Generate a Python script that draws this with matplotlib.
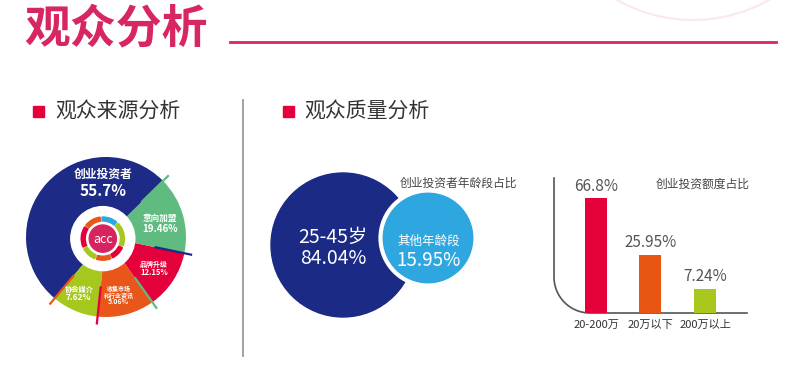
import numpy as np
import matplotlib
matplotlib.use("Agg")
import matplotlib.pyplot as plt
import matplotlib.patches as mpatches

plt.rcParams['font.family'] = ['Noto Sans CJK SC', 'DejaVu Sans']

# ---- data ----
# audience source (labels show the stated shares, wedges follow the drawn sizes)
source_names = ["创业投资者", "协会媒介", "收集市场\n和行业资讯", "品牌升级", "意向加盟"]
source_pct = ["55.7%", "7.62%", "5.06%", "12.15%", "19.46%"]
source_drawn = [51.5, 9.4, 11.5, 11.9, 15.6]
source_colors = ["#1d2a86", "#a6c81e", "#e8561a", "#e4003a", "#5fbb80"]
source_edge_lines = ["#5fbb80", "#e8561a", "#e4003a", "#5fbb80", "#1d2a86"]

# investor age
age_names = ["25-45岁", "其他年龄段"]
age_values = [84.04, 15.95]
age_colors = ["#1b2a85", "#2ea7e0"]

# investment amount
amount_names = ["20-200万", "20万以下", "200万以上"]
amount_values = [66.8, 25.95, 7.24]
amount_drawn = [66.8, 33.7, 14.0]
amount_colors = ["#e4003a", "#e95513", "#a8c81e"]

W, H = 803, 383
fig = plt.figure(figsize=(W / 100, H / 100), dpi=100)
fig.patch.set_facecolor("white")

# background axes in pixel coordinates for the decoration
bg = fig.add_axes([0, 0, 1, 1])
bg.set_xlim(0, W)
bg.set_ylim(H, 0)
bg.axis("off")

pink = "#d82660"
bg.text(24, 30, "观众分析", fontsize=33, fontweight="heavy", color=pink,
        va="center", ha="left")
bg.plot([230, 776], [42, 42], color=pink, lw=2)
bg.add_patch(mpatches.Circle((693, -134), 154, fill=False, ec="#fae8ee", lw=1.5))

# section headers
bg.add_patch(mpatches.Rectangle((33, 106), 11, 11, color="#e4003a"))
bg.text(55, 112, "观众来源分析", fontsize=15, color="#333333", va="center")
bg.add_patch(mpatches.Rectangle((283, 106), 11, 11, color="#e4003a"))
bg.text(304, 112, "观众质量分析", fontsize=15, color="#333333", va="center")
bg.plot([243, 243], [100, 356], color="#9a9a9a", lw=1.3)

# ---- pie: audience source ----
cx, cy, R = 106, 237, 77
half = 100
pax = fig.add_axes([(cx - half) / W, (H - cy - half) / H, 2 * half / W, 2 * half / H])
pax.set_xlim(-half / R, half / R)
pax.set_ylim(-half / R, half / R)
pax.set_aspect("equal")
pax.axis("off")
wedges, _ = pax.pie(source_drawn, colors=source_colors, startangle=44.5,
                    counterclock=True, radius=1,
                    wedgeprops=dict(linewidth=0))
# thin coloured separators sticking out of the pie
for w, c in zip(wedges, source_edge_lines):
    a = np.deg2rad(w.theta1)
    pax.plot([0.62 * np.cos(a), 1.1 * np.cos(a)], [0.62 * np.sin(a), 1.1 * np.sin(a)],
             color=c, lw=1.6, solid_capstyle="butt", zorder=3)
# centre logo
pax.add_patch(mpatches.Circle((-0.04, -0.02), 0.40, color="white", zorder=4))
ring = [(50, 92, "#2ea7e0"), (97, 142, "#e8561a"), (147, 203, "#e4003a"),
        (208, 248, "#a6c81e"), (253, 292, "#e8561a"), (297, 335, "#e4003a"),
        (340, 405, "#a6c81e")]
for t1, t2, c in ring:
    pax.add_patch(mpatches.Wedge((-0.04, -0.02), 0.27, t1, t2, width=0.05,
                                 color=c, zorder=5))
pax.add_patch(mpatches.Circle((-0.04, -0.02), 0.17, color="#d6245e", zorder=6))
pax.text(-0.04, -0.03, "acc", color="white", fontsize=9, ha="center", va="center", zorder=7)

lab_pos = [(-0.04, 0.79, 0.58), (-0.34, -0.65, -0.75), (0.16, -0.64, -0.81),
           (0.6, -0.34, -0.44), (0.675, 0.234, 0.104)]
lab_size = [(8.5, 11), (5.2, 6), (4.3, 5), (5, 5.5), (6.2, 7)]
for name, pct, (x, y1, y2), (s1, s2) in zip(source_names, source_pct, lab_pos, lab_size):
    if "\n" in name:
        a, b = name.split("\n")
        pax.text(x, y1, a, fontsize=s1, color="white", fontweight="bold", ha="center", va="center")
        pax.text(x, y1 - 0.09, b, fontsize=s1, color="white", fontweight="bold", ha="center", va="center")
    else:
        pax.text(x, y1, name, fontsize=s1, color="white", fontweight="bold", ha="center", va="center")
    pax.text(x, y2, pct, fontsize=s2, color="white", fontweight="bold", ha="center", va="center")

# ---- age circles ----
k = 72 / age_values[0] ** 0.25
r_big = k * age_values[0] ** 0.25
r_small = k * age_values[1] ** 0.25
bg.add_patch(mpatches.Circle((343, 245), r_big, color=age_colors[0], zorder=2))
bg.add_patch(mpatches.Circle((428, 238), r_small, fc=age_colors[1], ec="white", lw=3, zorder=3))
bg.text(333, 237, age_names[0], fontsize=14, color="white", ha="center", va="center", zorder=4)
bg.text(333, 258, "%.2f%%" % age_values[0], fontsize=14, color="white", ha="center", va="center", zorder=4)
bg.text(429, 241, age_names[1], fontsize=9, color="white", ha="center", va="center", zorder=4)
bg.text(429, 261, "%.2f%%" % age_values[1], fontsize=13.5, color="white", ha="center", va="center", zorder=4)
bg.text(458, 183, "创业投资者年龄段占比", fontsize=8.5, color="#444444", ha="center", va="center")

# ---- bars: investment amount ----
x0, x1, base, top = 554, 747, 313, 178
pxu, pyu = 54.5, 1.72
c0 = 596
bax = fig.add_axes([x0 / W, (H - base) / H, (x1 - x0) / W, (base - top) / H])
bax.set_xlim((x0 - c0) / pxu, (x1 - c0) / pxu)
bax.set_ylim(0, (base - top) / pyu)
bax.patch.set_alpha(0)
for s in bax.spines.values():
    s.set_visible(False)
xs = np.arange(len(amount_names))
bax.bar(xs, amount_drawn, width=22 / pxu, color=amount_colors, zorder=2)
for x, h, v in zip(xs, amount_drawn, amount_values):
    bax.text(x, h + 7, ("%.2f%%" % v).replace(".80%", ".8%"), fontsize=11,
             color="#555555", ha="center", va="center")
bax.set_xticks(xs, amount_names)
bax.set_yticks([])
bax.tick_params(axis="x", length=0, pad=5, labelsize=8, labelcolor="#333333")
bg.text(703, 184, "创业投资额度占比", fontsize=8.5, color="#444444", ha="center", va="center")

# rounded L-shaped axis line
t = np.linspace(0, np.pi / 2, 30)
rc = 36
ax_x = np.concatenate([[x0], x0 + rc - rc * np.cos(t), [x1]])
ax_y = np.concatenate([[top], base - rc + rc * np.sin(t), [base]])
bg.plot(ax_x, ax_y, color="#555555", lw=1.2)

fig.savefig("out.png", dpi=100, facecolor="white")
